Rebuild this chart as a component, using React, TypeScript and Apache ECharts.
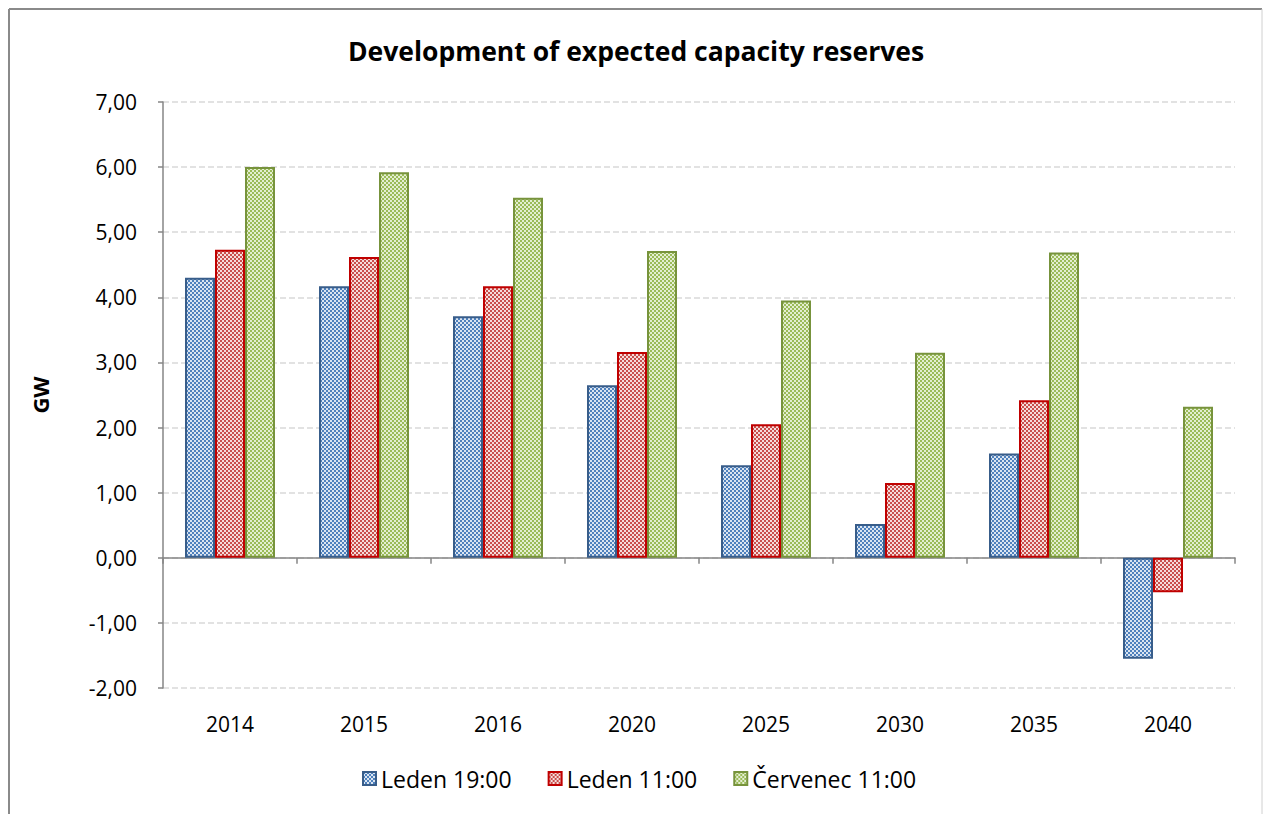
import React, { useEffect, useRef } from 'react';
import * as echarts from 'echarts';

const categories = ['2014', '2015', '2016', '2020', '2025', '2030', '2035', '2040'];
const seriesNames = ['Leden 19:00', 'Leden 11:00', 'Červenec 11:00'];
const leden19 = [4.30, 4.17, 3.71, 2.65, 1.42, 0.52, 1.60, -1.55];
const leden11 = [4.73, 4.62, 4.17, 3.16, 2.05, 1.15, 2.42, -0.53];
const cervenec11 = [6.00, 5.92, 5.53, 4.71, 3.95, 3.15, 4.69, 2.32];
const yMin = -2;
const yMax = 7;
const yStep = 1;
const titleText = 'Development of expected capacity reserves';
const yName = 'GW';

const FONT = '"Open Sans", sans-serif';

function makePattern(dark: string, light: string) {
  const c = document.createElement('canvas');
  c.width = 4;
  c.height = 4;
  const ctx = c.getContext('2d')!;
  ctx.fillStyle = light;
  ctx.fillRect(0, 0, 4, 4);
  ctx.fillStyle = dark;
  ctx.fillRect(0, 0, 2, 2);
  ctx.fillRect(2, 2, 2, 2);
  return { image: c, repeat: 'repeat', imageWidth: 4, imageHeight: 4 } as any;
}

export default function App() {
  const ref = useRef<HTMLDivElement>(null);
  useEffect(() => {
    if (!ref.current) return;
    const chart = echarts.init(ref.current, null, { renderer: 'svg' });
    const styles = [
      { dark: '#4f81bd', light: '#dbe5f1', border: '#385d8a' },
      { dark: '#c94f4c', light: '#f5dcdb', border: '#c00000' },
      { dark: '#9bbb59', light: '#e4eed2', border: '#77933c' },
    ];
    const datasets = [leden19, leden11, cervenec11];
    chart.setOption({
      animation: false,
      backgroundColor: '#ffffff',
      graphic: [
        { type: 'line', shape: { x1: 9, y1: 9, x2: 1262, y2: 9 }, style: { stroke: '#8a8a8a', lineWidth: 2 } },
        { type: 'line', shape: { x1: 9, y1: 9, x2: 9, y2: 814 }, style: { stroke: '#8a8a8a', lineWidth: 2 } },
        { type: 'line', shape: { x1: 1262, y1: 9, x2: 1262, y2: 814 }, style: { stroke: '#d0d0d0', lineWidth: 1 } },
        {
          type: 'text',
          x: 636,
          y: 51,
          style: {
            text: titleText,
            textAlign: 'center',
            textVerticalAlign: 'middle',
            fontFamily: FONT,
            fontWeight: 'bold',
            fontSize: 26.5,
            fill: '#000000',
          },
        },
      ],
      legend: {
        data: seriesNames,
        left: 357,
        top: 762,
        itemWidth: 13,
        itemHeight: 13,
        itemGap: 36,
        icon: 'rect',
        textStyle: { fontFamily: FONT, fontSize: 23, color: '#000000' },
      },
      grid: { left: 163, right: 28, top: 102, bottom: 126, containLabel: false },
      xAxis: [
        {
          type: 'category',
          data: categories,
          axisLine: { onZero: true, lineStyle: { color: '#868686', width: 1.5 } },
          axisTick: { show: true, length: 6, lineStyle: { color: '#868686', width: 1.5 } },
          axisLabel: { show: false },
          splitLine: { show: false },
        },
        {
          type: 'category',
          data: categories,
          position: 'bottom',
          axisLine: { show: false, onZero: false },
          axisTick: { show: false },
          axisLabel: { margin: 25, fontFamily: FONT, fontSize: 21, color: '#000000' },
          splitLine: { show: false },
        },
      ],
      yAxis: {
        type: 'value',
        min: yMin,
        max: yMax,
        interval: yStep,
        name: yName,
        nameLocation: 'middle',
        nameGap: 112,
        nameRotate: 90,
        nameTextStyle: { fontFamily: FONT, fontWeight: 'bold', fontSize: 22, color: '#000000' },
        axisLine: { show: true, lineStyle: { color: '#868686', width: 1.5 } },
        axisTick: { show: true, length: 5, lineStyle: { color: '#868686', width: 1.5 } },
        axisLabel: {
          margin: 26,
          fontFamily: FONT,
          fontSize: 21,
          color: '#000000',
          formatter: (v: number) => v.toFixed(2).replace('.', ','),
        },
        splitLine: { show: true, lineStyle: { color: '#d9d9d9', width: 1.5, type: [6, 3] } },
      },
      series: datasets.map((d, i) => ({
        name: seriesNames[i],
        type: 'bar',
        xAxisIndex: 0,
        data: d,
        barWidth: 30,
        barGap: '0%',
        itemStyle: {
          color: makePattern(styles[i].dark, styles[i].light),
          borderColor: styles[i].border,
          borderWidth: 2,
        },
      })),
    });
    return () => chart.dispose();
  }, []);
  return <div ref={ref} style={{ position: 'absolute', left: 0, top: 0, width: 1263, height: 814 }} />;
}
